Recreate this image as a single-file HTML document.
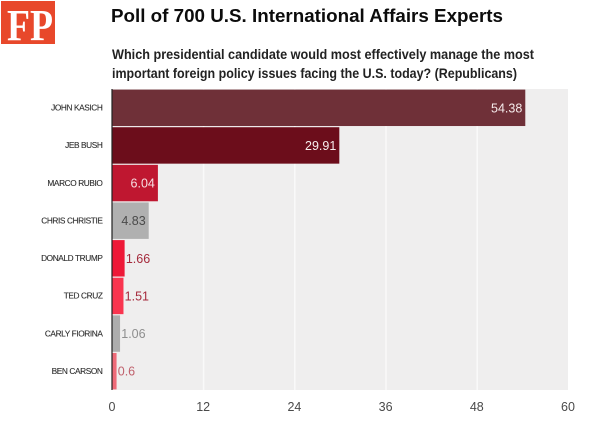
<!DOCTYPE html>
<html>
<head>
<meta charset="utf-8">
<style>
html,body{margin:0;padding:0;background:#fff;}
body{width:614px;height:421px;overflow:hidden;position:relative;}
svg{position:absolute;left:0;top:0;}
text{font-family:"Liberation Sans",sans-serif;}
</style>
</head>
<body>
<svg id="chart" width="614" height="421" viewBox="0 0 614 421">
  <rect x="1" y="1" width="54" height="43" fill="#e8482b"/>
  <text x="7" y="40" font-size="44" font-weight="700" fill="#fff" textLength="46" lengthAdjust="spacingAndGlyphs" style="font-family:'Liberation Serif',serif">FP</text>
  <text x="111" y="22" font-size="18.6" font-weight="700" fill="#0c0c0c" textLength="392" lengthAdjust="spacingAndGlyphs">Poll of 700 U.S. International Affairs Experts</text>
  <text x="112" y="59" font-size="14" font-weight="700" fill="#222" textLength="422" lengthAdjust="spacingAndGlyphs">Which presidential candidate would most effectively manage the most</text>
  <text x="112" y="78" font-size="14" font-weight="700" fill="#222" textLength="405" lengthAdjust="spacingAndGlyphs">important foreign policy issues facing the U.S. today? (Republicans)</text>
  <rect x="112" y="89" width="456" height="301" fill="#efeeee"/>
  <g id="grid"></g>
  <g id="bars"></g>
  <g id="labels"></g>
  <g id="values"></g>
  <g id="ticks"></g>
  <line x1="112" y1="89" x2="112" y2="390" stroke="#222" stroke-width="1.2"/>
</svg>
<script>
const categories = ["JOHN KASICH","JEB BUSH","MARCO RUBIO","CHRIS CHRISTIE","DONALD TRUMP","TED CRUZ","CARLY FIORINA","BEN CARSON"];
const seriesValues = [54.38,29.91,6.04,4.83,1.66,1.51,1.06,0.6];
const valueLabels = ["54.38","29.91","6.04","4.83","1.66","1.51","1.06","0.6"];
const barColors = ["#6f3038","#6c0d1b","#bf1730","#b0b0b0","#ee1837","#f9354f","#adadad","#ee6a78"];
const insideLabelColors = ["#f5eaea","#f8eeee","#f6dfe2","#4a4a4a"];
const outsideLabelColors = ["","","","","#a52a3c","#a52a3c","#8e8e8e","#c0606c"];
const tickLabels = [0,12,24,36,48,60];

const svgNS = "http://www.w3.org/2000/svg";
const plotLeft = 112, plotRight = 568, plotTop = 89, plotBottom = 390;
const xMax = tickLabels[tickLabels.length - 1];
function xScale(v){ return plotLeft + (v / xMax) * (plotRight - plotLeft); }
const band = (plotBottom - plotTop) / categories.length;
function yScale(i){ return plotTop + i * band; }

function make(tag, attrs, text){
  const el = document.createElementNS(svgNS, tag);
  for (const k in attrs) el.setAttribute(k, attrs[k]);
  if (text !== undefined) el.textContent = text;
  return el;
}

const gridG = document.getElementById("grid");
const barsG = document.getElementById("bars");
const labelsG = document.getElementById("labels");
const valuesG = document.getElementById("values");
const ticksG = document.getElementById("ticks");

tickLabels.forEach(function(t){
  if (t !== 0 && t !== xMax) {
    const gl = make("line", {x1:xScale(t) + 0.4, x2:xScale(t) + 0.4, y1:plotTop, y2:plotBottom, stroke:"#f9f9f9", "stroke-width":1.6});
    
    
    gridG.appendChild(gl);
  }
  const tl = make("text", {x:xScale(t), y:411, "text-anchor":"middle", "font-size":12.5, fill:"#4a4a4a"}, String(t));
  
  
  ticksG.appendChild(tl);
});

categories.forEach(function(c, i){
  const w = xScale(seriesValues[i]) - plotLeft;
  const bar = make("rect", {x:plotLeft, y:yScale(i) + 0.6, width:w, height:band - 1.2, fill:barColors[i]});
  
  
  barsG.appendChild(bar);

  const cy = yScale(i) + band / 2;
  const lab = make("text", {x:102.5, y:cy + 2.8, "text-anchor":"end", "font-size":8.3, "letter-spacing":-0.4, fill:"#2e2e2e", stroke:"#2e2e2e", "stroke-width":0.12}, c);
  
  
  labelsG.appendChild(lab);

  const inside = i < insideLabelColors.length;
  const vx = inside ? xScale(seriesValues[i]) - 3 : xScale(seriesValues[i]) + 1.2;
  const val = make("text", {
    x:vx, y:cy + 4.5, "text-anchor":inside ? "end" : "start", "font-size":12.5,
    fill:inside ? insideLabelColors[i] : outsideLabelColors[i]
  }, valueLabels[i]);
  
  
  valuesG.appendChild(val);
});
</script>
</body>
</html>
